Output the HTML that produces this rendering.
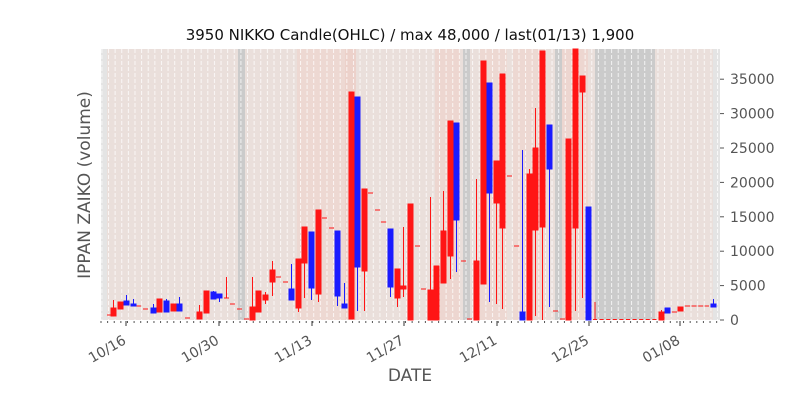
<!DOCTYPE html>
<html><head><meta charset="utf-8"><style>body{margin:0;background:#fff}svg{display:block;font-family:"DejaVu Sans","Liberation Sans",sans-serif}</style></head><body>
<svg width="800" height="400" xmlns="http://www.w3.org/2000/svg">
<defs><pattern id="dl" x="108" y="49" width="6.62" height="6" patternUnits="userSpaceOnUse"><line x1="0.5" y1="0" x2="0.5" y2="4" stroke="#fff" stroke-opacity="0.75" stroke-width="1"/></pattern></defs>
<rect x="101" y="49" width="619" height="271" fill="#eadfdb"/>
<rect x="101" y="49" width="6" height="271" fill="#e4e4e4"/>
<rect x="713" y="49" width="7" height="271" fill="#e4e4e4"/>
<rect x="297" y="49" width="48" height="271" fill="#edd8d2"/>
<rect x="345" y="49" width="11" height="271" fill="#ecd1ca"/>
<rect x="435" y="49" width="25" height="271" fill="#edd6d0"/>
<rect x="480" y="49" width="27" height="271" fill="#edd8d2"/>
<rect x="513" y="49" width="32" height="271" fill="#edd8d2"/>
<rect x="562" y="49" width="26" height="271" fill="#edd6d0"/>
<rect x="238" y="49" width="7" height="271" fill="#cbcbcb"/>
<rect x="463" y="49" width="7" height="271" fill="#cbcbcb"/>
<rect x="555" y="49" width="7" height="271" fill="#cbcbcb"/>
<rect x="595" y="49" width="60" height="271" fill="#cbcbcb"/>
<rect x="101" y="49" width="619" height="271" fill="url(#dl)"/>
<g fill="#ff1515" stroke="#ff1515" stroke-width="1">
<line x1="107" y1="315" x2="111" y2="315"/>
<rect x="111" y="308" width="5" height="8"/><line x1="113.5" y1="300" x2="113.5" y2="308"/>
<rect x="118" y="302" width="5" height="7"/>
<line x1="136" y1="306" x2="141" y2="306"/><line x1="143" y1="309" x2="148" y2="309"/>
<rect x="157" y="299" width="5" height="13"/>
<rect x="171" y="304" width="5" height="7"/>
<line x1="185" y1="318" x2="190" y2="318"/>
<rect x="197" y="312" width="5" height="7"/><line x1="199.5" y1="305" x2="199.5" y2="312"/>
<rect x="204" y="291" width="5" height="22"/>
<line x1="224" y1="298" x2="229" y2="298"/><line x1="226.5" y1="277" x2="226.5" y2="298"/>
<line x1="230" y1="304" x2="235" y2="304"/><line x1="237" y1="309" x2="242" y2="309"/><line x1="244" y1="319" x2="249" y2="319"/>
<rect x="250" y="307" width="5" height="13"/><line x1="252.5" y1="277" x2="252.5" y2="307"/>
<rect x="256" y="291" width="5" height="21"/>
<rect x="263" y="295" width="5" height="5"/><line x1="265.5" y1="292" x2="265.5" y2="304"/>
<rect x="270" y="270" width="5" height="12"/><line x1="272.5" y1="261" x2="272.5" y2="296"/>
<line x1="276" y1="277" x2="281" y2="277"/><line x1="283" y1="282" x2="288" y2="282"/>
<rect x="296" y="259" width="5" height="49"/><line x1="298.5" y1="308" x2="298.5" y2="312"/>
<rect x="302" y="227" width="5" height="36"/><line x1="304.5" y1="263" x2="304.5" y2="298"/>
<rect x="316" y="210" width="5" height="84"/><line x1="318.5" y1="294" x2="318.5" y2="302"/>
<line x1="322" y1="218" x2="327" y2="218"/><line x1="329" y1="228" x2="334" y2="228"/>
<rect x="349" y="92" width="5" height="227"/>
<rect x="362" y="189" width="5" height="82"/><line x1="364.5" y1="271" x2="364.5" y2="311"/>
<line x1="368" y1="193" x2="373" y2="193"/><line x1="375" y1="210" x2="380" y2="210"/><line x1="381" y1="222" x2="386" y2="222"/>
<rect x="395" y="269" width="5" height="29"/><line x1="397.5" y1="298" x2="397.5" y2="307"/>
<rect x="401" y="286" width="5" height="3"/><line x1="403.5" y1="227" x2="403.5" y2="297"/>
<rect x="408" y="204" width="5" height="116"/>
<line x1="415" y1="246" x2="420" y2="246"/><line x1="421" y1="289" x2="426" y2="289"/>
<rect x="428" y="290" width="5" height="30"/><line x1="430.5" y1="197" x2="430.5" y2="290"/>
<rect x="434" y="266" width="5" height="54"/>
<rect x="441" y="231" width="5" height="52"/><line x1="443.5" y1="191" x2="443.5" y2="231"/>
<rect x="448" y="121" width="5" height="135"/><line x1="450.5" y1="256" x2="450.5" y2="279"/>
<line x1="461" y1="261" x2="466" y2="261"/><line x1="467" y1="319" x2="472" y2="319"/>
<rect x="474" y="261" width="5" height="59"/><line x1="476.5" y1="179" x2="476.5" y2="261"/>
<rect x="481" y="61" width="5" height="223"/>
<rect x="494" y="161" width="5" height="42"/><line x1="496.5" y1="203" x2="496.5" y2="304"/>
<rect x="500" y="74" width="5" height="154"/><line x1="502.5" y1="228" x2="502.5" y2="309"/>
<line x1="507" y1="176" x2="512" y2="176"/><line x1="514" y1="246" x2="519" y2="246"/>
<rect x="527" y="174" width="5" height="146"/><line x1="529.5" y1="169" x2="529.5" y2="174"/>
<rect x="533" y="148" width="5" height="82"/><line x1="535.5" y1="108" x2="535.5" y2="316"/>
<rect x="540" y="51" width="5" height="176"/><line x1="542.5" y1="227" x2="542.5" y2="320"/>
<line x1="553" y1="311" x2="558" y2="311"/><line x1="560" y1="319" x2="565" y2="319"/>
<rect x="566" y="139" width="5" height="181"/>
<rect x="573" y="49" width="5" height="179"/><line x1="575.5" y1="228" x2="575.5" y2="311"/>
<rect x="580" y="76" width="5" height="16"/><line x1="582.5" y1="92" x2="582.5" y2="298"/>
<line x1="595" y1="302" x2="595" y2="320"/><line x1="593" y1="319.5" x2="658" y2="319.5" stroke-dasharray="4,2.6"/>
<rect x="659" y="312" width="5" height="8"/><line x1="661.5" y1="310" x2="661.5" y2="312"/>
<line x1="672" y1="312" x2="677" y2="312"/>
<rect x="678" y="307" width="5" height="4"/>
<line x1="685" y1="306" x2="709" y2="306" stroke-dasharray="5,1.6"/>
</g>
<g fill="#1b1bff" stroke="#1b1bff" stroke-width="1">
<rect x="124" y="301" width="5" height="4"/><line x1="126.5" y1="295" x2="126.5" y2="301"/>
<rect x="131" y="304" width="5" height="2"/><line x1="133.5" y1="299" x2="133.5" y2="304"/>
<rect x="151" y="308" width="5" height="5"/><line x1="153.5" y1="304" x2="153.5" y2="308"/>
<rect x="164" y="301" width="5" height="11"/><line x1="166.5" y1="299" x2="166.5" y2="301"/>
<rect x="177" y="304" width="5" height="7"/><line x1="179.5" y1="297" x2="179.5" y2="304"/>
<rect x="211" y="292" width="5" height="7"/><line x1="213.5" y1="291" x2="213.5" y2="292"/>
<rect x="217" y="294" width="5" height="4"/><line x1="219.5" y1="298" x2="219.5" y2="302"/>
<rect x="289" y="289" width="5" height="11"/><line x1="291.5" y1="264" x2="291.5" y2="289"/>
<rect x="309" y="232" width="5" height="56"/><line x1="311.5" y1="288" x2="311.5" y2="300"/>
<rect x="335" y="231" width="5" height="65"/><line x1="337.5" y1="296" x2="337.5" y2="306"/>
<rect x="342" y="304" width="5" height="4"/><line x1="344.5" y1="283" x2="344.5" y2="304"/>
<rect x="355" y="97" width="5" height="170"/><line x1="357.5" y1="267" x2="357.5" y2="311"/>
<rect x="388" y="229" width="5" height="58"/><line x1="390.5" y1="287" x2="390.5" y2="297"/>
<rect x="454" y="123" width="5" height="97"/><line x1="456.5" y1="220" x2="456.5" y2="272"/>
<rect x="487" y="83" width="5" height="110"/><line x1="489.5" y1="193" x2="489.5" y2="302"/>
<rect x="520" y="312" width="5" height="8"/><line x1="522.5" y1="150" x2="522.5" y2="312"/>
<rect x="547" y="125" width="5" height="44"/><line x1="549.5" y1="169" x2="549.5" y2="307"/>
<rect x="586" y="207" width="5" height="113"/>
<rect x="665" y="308" width="5" height="5"/>
<rect x="711" y="304" width="5" height="3"/><line x1="713.5" y1="299" x2="713.5" y2="304"/>
</g>
<g stroke="#555" stroke-width="1">
<line x1="720" y1="320" x2="724" y2="320"/><line x1="720" y1="285.6" x2="724" y2="285.6"/><line x1="720" y1="251.2" x2="724" y2="251.2"/><line x1="720" y1="216.8" x2="724" y2="216.8"/><line x1="720" y1="182.4" x2="724" y2="182.4"/><line x1="720" y1="148" x2="724" y2="148"/><line x1="720" y1="113.6" x2="724" y2="113.6"/><line x1="720" y1="79.2" x2="724" y2="79.2"/>
</g>
<line x1="100.5" y1="322" x2="718" y2="322" stroke="#555" stroke-width="2" stroke-dasharray="1,5.62"/>
<g stroke="#555" stroke-width="1.2">
<line x1="126" y1="321" x2="126" y2="326"/><line x1="219" y1="321" x2="219" y2="326"/><line x1="312" y1="321" x2="312" y2="326"/><line x1="404" y1="321" x2="404" y2="326"/><line x1="497" y1="321" x2="497" y2="326"/><line x1="589" y1="321" x2="589" y2="326"/><line x1="680" y1="321" x2="680" y2="326"/>
</g>
<g fill="#555" font-size="14">
<text x="730" y="325">0</text><text x="730" y="290.6">5000</text><text x="730" y="256.2">10000</text><text x="730" y="221.8">15000</text><text x="730" y="187.4">20000</text><text x="730" y="153">25000</text><text x="730" y="118.6">30000</text><text x="730" y="84.2">35000</text>
<g text-anchor="end">
<text transform="translate(127,343) rotate(-30)">10/16</text>
<text transform="translate(220,343) rotate(-30)">10/30</text>
<text transform="translate(313,343) rotate(-30)">11/13</text>
<text transform="translate(405,343) rotate(-30)">11/27</text>
<text transform="translate(498,343) rotate(-30)">12/11</text>
<text transform="translate(590,343) rotate(-30)">12/25</text>
<text transform="translate(681,343) rotate(-30)">01/08</text>
</g>
<text x="410" y="381" font-size="17" text-anchor="middle">DATE</text>
<text transform="translate(90,185) rotate(-90)" font-size="17" text-anchor="middle">IPPAN ZAIKO (volume)</text>
</g>
<text x="410" y="40" font-size="15" fill="#111" text-anchor="middle">3950 NIKKO Candle(OHLC) / max 48,000 / last(01/13) 1,900</text>
</svg>
</body></html>
